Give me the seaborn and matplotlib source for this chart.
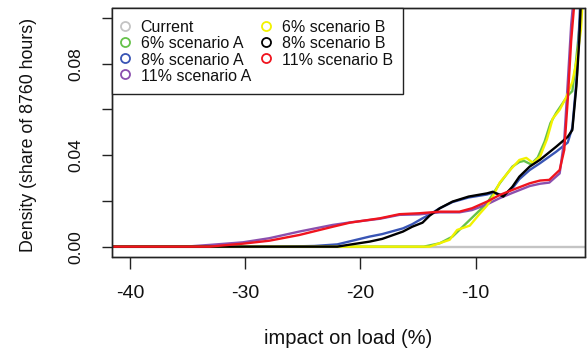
import numpy as np
import pandas as pd
import matplotlib
matplotlib.use("Agg")
import matplotlib.pyplot as plt
from matplotlib.lines import Line2D
from matplotlib.patches import Rectangle
import seaborn as sns

# ---- data ----
series_names = ["Current", "6% scenario A", "8% scenario A", "11% scenario A",
                "6% scenario B", "8% scenario B", "11% scenario B"]
series_colors = ["#C4C4C4", "#66C24A", "#3955B5", "#8B4FAE",
                 "#F2F200", "#000000", "#F0141E"]

current_x = [-41.6, -0.3]
current_y = [0.0, 0.0]

a6_x = [-41.6, -14.5, -13.1, -12.0, -10.5, -9.0, -7.9, -6.8, -6.2, -5.8, -5.2,
        -4.6, -4.0, -3.5, -3.0, -2.4, -2.0, -1.6, -1.3, -1.0, -0.8]
a6_y = [0.0, 0.0, 0.0015, 0.0044, 0.0117, 0.019, 0.0277, 0.035, 0.037, 0.0375, 0.036,
        0.039, 0.046, 0.054, 0.0585, 0.063, 0.066, 0.068, 0.080, 0.095, 0.108]

a8_x = [-41.6, -27.0, -24.0, -22.0, -19.2, -18.1, -16.3, -15.5, -14.6, -14.0, -13.1,
        -12.0, -10.6, -9.0, -8.5, -7.6, -6.8, -6.2, -5.3, -4.4, -3.0, -2.0, -1.6,
        -1.2, -0.9]
a8_y = [0.0, 0.0, 0.0003, 0.001, 0.0044, 0.0055, 0.008, 0.0098, 0.0124, 0.014, 0.0168,
        0.0195, 0.0215, 0.0228, 0.0236, 0.0225, 0.0255, 0.0295, 0.0335, 0.0365, 0.0415,
        0.0455, 0.052, 0.075, 0.108]

a11_x = [-41.6, -35.2, -33.0, -30.2, -27.9, -25.3, -22.4, -20.9, -18.3, -16.6, -14.9,
         -13.1, -11.4, -10.3, -9.0, -7.9, -6.8, -5.3, -4.4, -3.6, -2.7, -2.3, -2.0,
         -1.7, -1.5]
a11_y = [0.0, 0.0, 0.0008, 0.0019, 0.0037, 0.0066, 0.0095, 0.0106, 0.0122, 0.0139, 0.0141,
         0.0150, 0.0150, 0.0160, 0.0185, 0.0212, 0.0235, 0.0265, 0.0275, 0.0280, 0.032,
         0.0467, 0.0715, 0.097, 0.108]

b6_x = [-41.6, -14.0, -12.25, -11.6, -10.5, -9.6, -9.0, -8.6, -7.9, -7.0, -6.2, -5.6,
        -5.0, -4.4, -3.8, -3.3, -2.7, -2.1, -1.6, -1.2, -0.85, -0.7]
b6_y = [0.0, 0.0, 0.003, 0.0073, 0.0092, 0.0146, 0.018, 0.021, 0.028, 0.0335, 0.0379, 0.0388,
        0.0366, 0.0394, 0.047, 0.056, 0.0598, 0.0656, 0.072, 0.082, 0.095, 0.108]

b8_x = [-41.6, -22.0, -20.9, -19.2, -18.1, -16.3, -15.5, -14.6, -14.0, -13.1, -12.0,
        -10.6, -9.0, -8.5, -7.6, -6.8, -6.2, -5.3, -4.4, -3.0, -2.0, -1.6, -1.25,
        -1.0, -0.85]
b8_y = [0.0, 0.0, 0.0009, 0.0022, 0.0034, 0.0066, 0.0087, 0.0105, 0.0135, 0.0168, 0.0197,
        0.0219, 0.0233, 0.0240, 0.0219, 0.0262, 0.0306, 0.0350, 0.0380, 0.0437, 0.0480,
        0.0510, 0.070, 0.090, 0.108]

b11_x = [-41.6, -33.1, -31.6, -30.2, -27.9, -25.3, -22.4, -20.9, -18.3, -16.6, -14.9,
         -13.1, -11.4, -10.3, -9.0, -7.9, -6.8, -5.3, -4.4, -3.6, -2.7, -2.3, -2.0,
         -1.7, -1.4]
b11_y = [0.0, 0.0, 0.0007, 0.0013, 0.0026, 0.0051, 0.0087, 0.0105, 0.0124, 0.0142, 0.0146,
         0.0153, 0.0153, 0.0168, 0.0197, 0.0226, 0.0248, 0.0277, 0.0289, 0.0292, 0.0335,
         0.0423, 0.064, 0.090, 0.108]

x_ticks = [-40, -30, -20, -10]
x_tick_labels = ["-40", "-30", "-20", "-10"]
y_ticks = [0.00, 0.02, 0.04, 0.06, 0.08, 0.10]
y_tick_labels = ["0.00", "", "0.04", "", "0.08", ""]

xs = [current_x, a6_x, a8_x, a11_x, b6_x, b8_x, b11_x]
ys = [current_y, a6_y, a8_y, a11_y, b6_y, b8_y, b11_y]

frames = []
for name, xv, yv in zip(series_names, xs, ys):
    frames.append(pd.DataFrame({"x": xv, "y": yv, "series": name}))
df = pd.concat(frames, ignore_index=True)

# ---- style ----
sns.set_style("white")
plt.rcParams["font.family"] = ["Liberation Sans", "DejaVu Sans"]
plt.rcParams["axes.edgecolor"] = "#222222"
plt.rcParams["axes.linewidth"] = 1.0

fig = plt.figure(figsize=(5.87, 3.52), dpi=100)
ax = fig.add_axes([111.5 / 587, 1 - 256.5 / 352, (585.0 - 111.5) / 587, (256.5 - 8.5) / 352])

palette = dict(zip(series_names, series_colors))
sns.lineplot(data=df, x="x", y="y", hue="series", hue_order=series_names,
             palette=palette, sort=False, estimator=None, linewidth=1.7,
             legend=False, ax=ax)

ax.set_xlim(-41.6, -0.5)
ax.set_ylim(-0.0043, 0.1041)
ax.set_xticks(x_ticks)
ax.set_xticklabels(x_tick_labels, fontsize=14)
ax.set_yticks(y_ticks)
ax.set_yticklabels(y_tick_labels, fontsize=12.5)
for lab in ax.get_yticklabels():
    lab.set_rotation(90)
    lab.set_va("center")
ax.tick_params(axis="x", which="major", bottom=True, top=False, direction="out",
               length=8.3, width=1.0, color="#222222", pad=12, labelcolor="#111111")
ax.tick_params(axis="y", which="major", left=True, right=False, direction="out",
               length=7.5, width=1.0, color="#222222", pad=13, labelcolor="#111111")
for s in ax.spines.values():
    s.set_visible(True)
    s.set_color("#222222")
    s.set_linewidth(1.0)
# full box frame, as in the reference
ax.add_patch(Rectangle((0, 0), 1, 1, transform=ax.transAxes, fill=False,
                       edgecolor="#222222", linewidth=1.0, zorder=20, clip_on=False))

ax.set_xlabel("impact on load (%)", fontsize=14.5, color="#111111")
ax.set_ylabel("Density (share of 8760 hours)", fontsize=12.8, color="#111111")
ax.xaxis.set_label_coords(0.5, -0.292)
ax.yaxis.set_label_coords(-0.157, 0.49)

handles = [Line2D([], [], linestyle="", marker="o", markersize=6.5,
                  markerfacecolor="none", markeredgecolor=c, markeredgewidth=1.3)
           for c in series_colors]
leg = ax.legend(handles, series_names, ncol=2, loc="upper left",
                bbox_to_anchor=(0, 1), borderaxespad=0, frameon=True,
                fancybox=False, framealpha=1, edgecolor="#222222",
                fontsize=11.5, borderpad=0.65, labelspacing=0.0, handleheight=1.13,
                handlelength=0.33, handletextpad=0.84, columnspacing=0.78)
leg.get_frame().set_linewidth(1.0)
leg.set_zorder(30)
for t in leg.get_texts():
    t.set_color("#111111")

fig.savefig("out.png", dpi=100)
